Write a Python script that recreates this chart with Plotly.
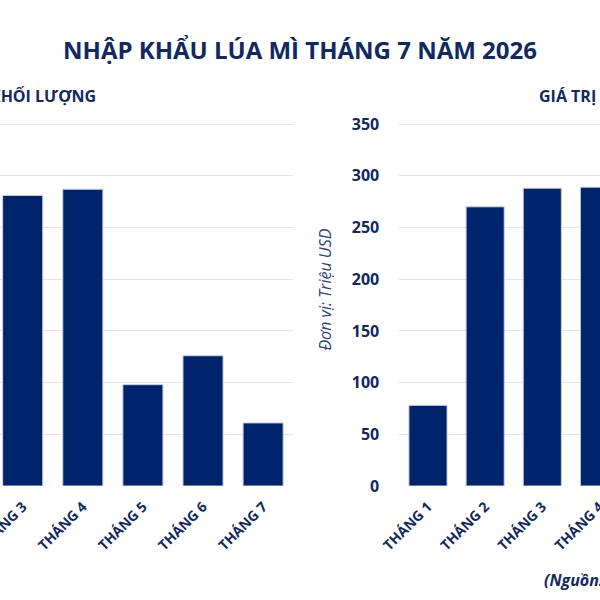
import plotly.graph_objects as go

# Data (visible part of the reference)
thang_kl = ["THÁNG 3", "THÁNG 4", "THÁNG 5", "THÁNG 6", "THÁNG 7"]
khoi_luong = [281, 287, 98, 126, 61]

thang_gt = ["THÁNG 1", "THÁNG 2", "THÁNG 3", "THÁNG 4"]
gia_tri = [78, 270, 288, 289]

navy = "#0f2963"
bar_color = "#00246b"
grid_color = "#e1e4ec"
font_family = "Open Sans"

fig = go.Figure()

fig.add_trace(go.Bar(
    x=thang_kl, y=khoi_luong, xaxis="x", yaxis="y",
    marker=dict(color=bar_color, line=dict(color="#c9cfe0", width=1)),
    showlegend=False,
))
fig.add_trace(go.Bar(
    x=thang_gt, y=gia_tri, xaxis="x2", yaxis="y2",
    marker=dict(color=bar_color, line=dict(color="#c9cfe0", width=1)),
    showlegend=False,
))

tick_font = dict(family=font_family, size=14, color=navy, weight="bold")

fig.update_layout(
    width=600, height=600,
    margin=dict(l=0, r=0, t=121, b=114),
    paper_bgcolor="white", plot_bgcolor="white",
    bargap=0.333,
    font=dict(family=font_family, color=navy),
    xaxis=dict(domain=[0, 0.4883], range=[-0.378, 4.497], tickangle=-45,
               tickfont=tick_font, showgrid=False, zeroline=False, automargin=False,
               ticks="outside", ticklen=6, tickcolor="rgba(0,0,0,0)"),
    yaxis=dict(range=[0, 353], dtick=50, showticklabels=False, automargin=False,
               gridcolor=grid_color, gridwidth=1, zeroline=False),
    xaxis2=dict(domain=[0.6657, 1], range=[-0.5, 3.01], tickangle=-45,
                tickfont=tick_font, showgrid=False, zeroline=False, automargin=False,
                ticks="outside", ticklen=6, tickcolor="rgba(0,0,0,0)"),
    yaxis2=dict(range=[0, 353], dtick=50, anchor="x2", automargin=False,
                tickfont=dict(family=font_family, size=16, color=navy, weight="bold"),
                ticks="outside", ticklen=16, tickcolor="rgba(0,0,0,0)",
                gridcolor=grid_color, gridwidth=1, zeroline=False),
)

fig.add_annotation(text="NHẬP KHẨU LÚA MÌ THÁNG 7 NĂM 2026", xref="paper", yref="paper",
                   x=0.5, y=1.197, xanchor="center", yanchor="middle", showarrow=False,
                   font=dict(family=font_family, size=24, color=navy, weight="bold"))
fig.add_annotation(text="KHỐI LƯỢNG", xref="paper", yref="paper",
                   x=0.1633, y=1.068, xanchor="right", yanchor="middle", showarrow=False,
                   font=dict(family=font_family, size=16, color=navy, weight="bold"))
fig.add_annotation(text="GIÁ TRỊ", xref="paper", yref="paper",
                   x=0.895, y=1.068, xanchor="left", yanchor="middle", showarrow=False,
                   font=dict(family=font_family, size=16, color=navy, weight="bold"))
fig.add_annotation(text="Đơn vị: Triệu USD", xref="paper", yref="paper",
                   x=0.541, y=0.537, xanchor="center", yanchor="middle", textangle=-90,
                   showarrow=False,
                   font=dict(family=font_family, size=16, color="#2c4282", style="italic"))
fig.add_annotation(text="(Nguồn: Cục Hải quan)", xref="paper", yref="paper",
                   x=0.904, y=-0.2575, xanchor="left", yanchor="middle", showarrow=False,
                   font=dict(family=font_family, size=16, color=navy, weight="bold",
                             style="italic"))

fig.write_html("out.html", config={"displayModeBar": False},
               post_script="document.body.style.margin='0';")
